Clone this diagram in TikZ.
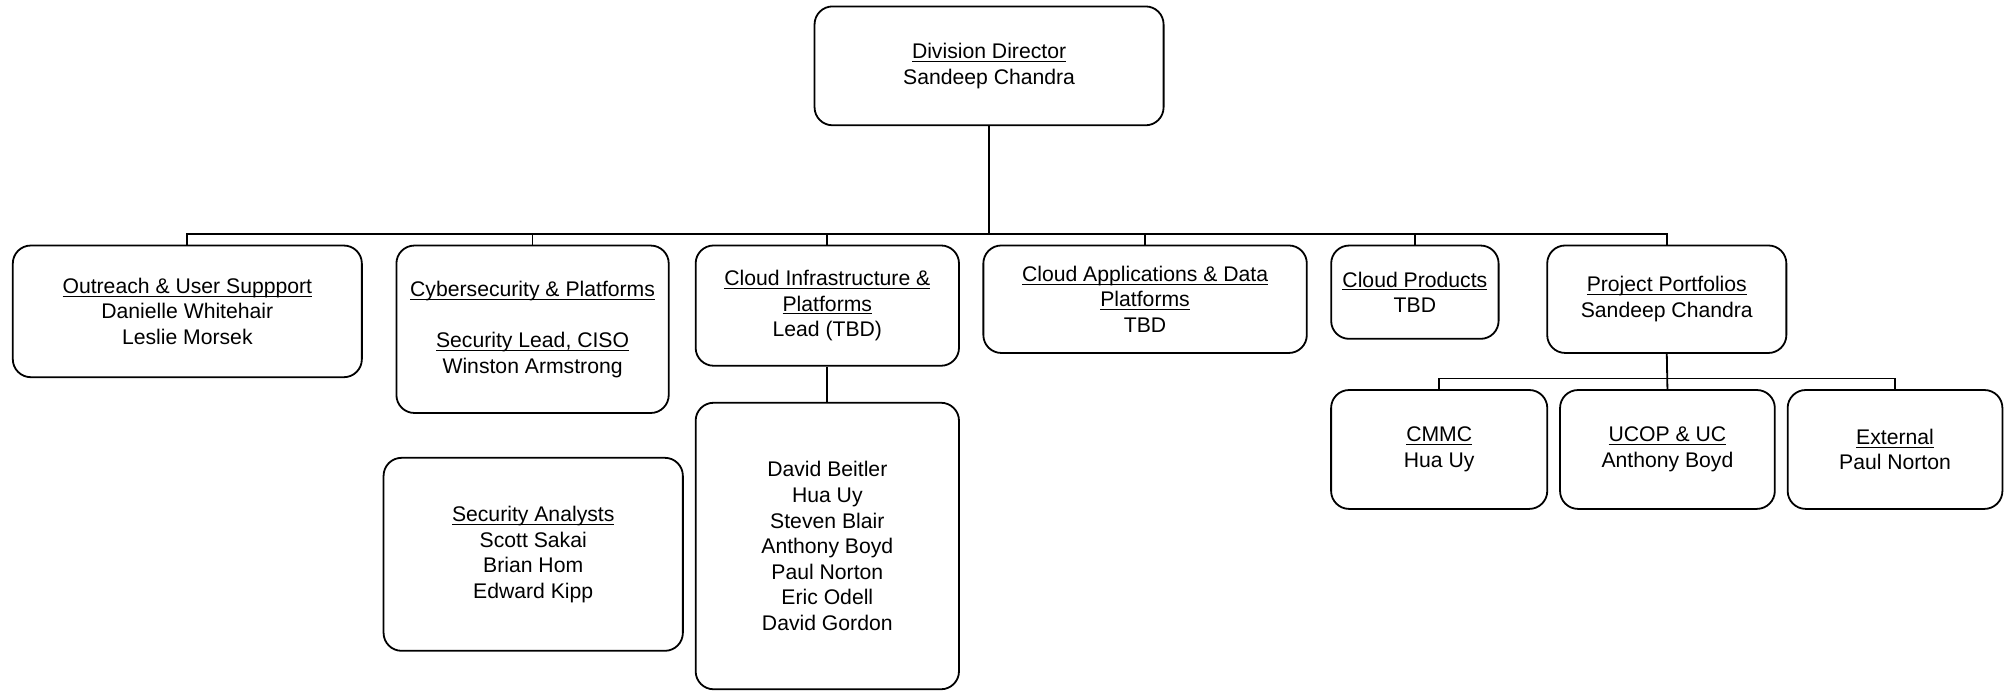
\documentclass[tikz,border=0pt]{standalone}
\usepackage{fontspec}
\setmainfont{Liberation Sans}
\newcommand\ulx[1]{\setbox0\hbox{#1}\rlap{\rule[-1.7pt]{\wd0}{0.5pt}}\box0}
\begin{document}
\begin{tikzpicture}[x=0.64pt,y=-0.64pt,
  box/.style={draw, line width=0.9pt, rounded corners=9pt, rectangle, inner sep=0pt, align=center,
    font={\fontsize{10.6pt}{12.8pt}\selectfont}},
  wire/.style={line width=0.9pt}]
\useasboundingbox (0,0) rectangle (1568,540);
\node[box, minimum width=174.7pt, minimum height=59.5pt] (dir) at (773.5,51.5) {\ulx{Division Director}\\Sandeep Chandra};
\node[box, minimum width=174.7pt, minimum height=65.9pt] (out) at (146.5,243.5) {\ulx{Outreach \& User Suppport}\\Danielle Whitehair\\Leslie Morsek};
\node[box, minimum width=136.3pt, minimum height=83.8pt] (cyb) at (416.5,257.5) {\ulx{Cybersecurity \& Platforms}\\[12.8pt]\ulx{Security Lead, CISO}\\Winston Armstrong};
\node[box, minimum width=131.8pt, minimum height=60.2pt] (cin) at (647,239) {\ulx{Cloud Infrastructure \&}\\\ulx{Platforms}\\Lead (TBD)};
\node[box, minimum width=161.9pt, minimum height=53.8pt] (cap) at (895.5,234) {\ulx{Cloud Applications \& Data}\\\ulx{Platforms}\\TBD};
\node[box, minimum width=83.8pt, minimum height=46.7pt] (cpr) at (1106.5,228.5) {\ulx{Cloud Products}\\TBD};
\node[box, minimum width=119.7pt, minimum height=53.8pt] (pp) at (1303.5,234) {\ulx{Project Portfolios}\\Sandeep Chandra};
\node[box, minimum width=108.2pt, minimum height=59.5pt] (cmmc) at (1125.5,351.5) {\ulx{CMMC}\\Hua Uy};
\node[box, minimum width=107.5pt, minimum height=59.5pt] (ucop) at (1304,351.5) {\ulx{UCOP \& UC}\\Anthony Boyd};
\node[box, minimum width=107.5pt, minimum height=59.5pt] (ext) at (1482,351.5) {\ulx{External}\\Paul Norton};
\node[box, minimum width=131.8pt, minimum height=143.4pt] (team) at (647,427) {David Beitler\\Hua Uy\\Steven Blair\\Anthony Boyd\\Paul Norton\\Eric Odell\\David Gordon};
\node[box, minimum width=149.8pt, minimum height=96.6pt] (sa) at (417,433.5) {\ulx{Security Analysts}\\Scott Sakai\\Brian Hom\\Edward Kipp};
\coordinate (bus) at (0,183);
\coordinate (sub) at (0,296);
\draw[wire] (dir.south) -- (dir.south|-bus);
\draw[wire] (out.north) -- (out.north|-bus) -- (pp.north|-bus) -- (pp.north);
\draw[wire] (cyb.north) -- (cyb.north|-bus);
\draw[wire] (cin.north) -- (cin.north|-bus);
\draw[wire] (cap.north) -- (cap.north|-bus);
\draw[wire] (cpr.north) -- (cpr.north|-bus);
\draw[wire] (cin.south) -- (team.north);
\draw[wire] (pp.south) -- (ucop.north);
\draw[wire] (cmmc.north) -- (cmmc.north|-sub) -- (ext.north|-sub) -- (ext.north);
\end{tikzpicture}
\end{document}
